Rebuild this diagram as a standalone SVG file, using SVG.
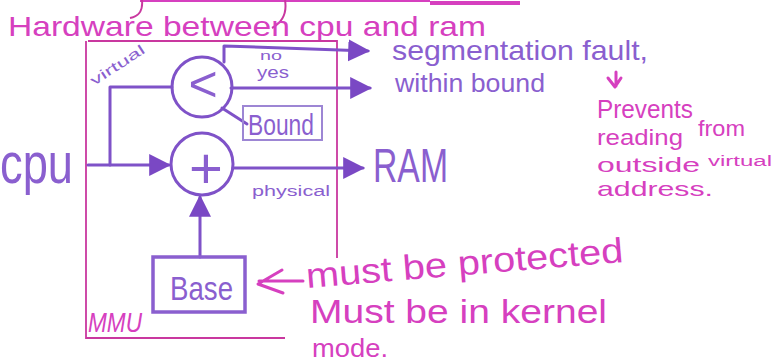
<svg xmlns="http://www.w3.org/2000/svg" width="777" height="362" viewBox="0 0 777 362">
  <style>
    .ink { fill: none; stroke: #7f52c8; stroke-width: 3; stroke-linecap: round; stroke-linejoin: round; }
    .pinkline { fill: none; stroke: #d640bf; stroke-width: 3; stroke-linecap: round; stroke-linejoin: round; }
    .frame { fill: none; stroke: #c9389f; stroke-width: 1.8; }
    .pt { font-family: "Liberation Sans", Arial, sans-serif; fill: #8a5fcf; }
    .mg { font-family: "Liberation Sans", Arial, sans-serif; fill: #d640bf; }
  </style>
  <defs>
    <marker id="head" viewBox="0 0 10 10" refX="9" refY="5" markerWidth="22" markerHeight="24" markerUnits="userSpaceOnUse" orient="auto">
      <path d="M0,0 L10,5 L0,10 z" fill="#7a48c4"/>
    </marker>
  </defs>
  <rect width="777" height="362" fill="#ffffff"/>

  <!-- title and its stray strokes -->
  <g id="title">
    <path d="M140,1 H430" fill="none" stroke="#d640bf" stroke-width="2"/>
    <path d="M430,3 H520" fill="none" stroke="#d640bf" stroke-width="4"/>
    <path d="M142,0 C143,10 140,16 130,18" fill="none" stroke="#c9389f" stroke-width="2"/>
    <path d="M285,0 C287,12 283,22 272,28" fill="none" stroke="#c9389f" stroke-width="2"/>
    <text class="mg" x="8" y="36" font-size="28" textLength="478" lengthAdjust="spacingAndGlyphs">Hardware between cpu and ram</text>
  </g>

  <!-- MMU frame -->
  <g id="mmu">
    <path class="frame" d="M88,41 H337 V258"/>
    <path class="frame" d="M86,41 V338 H285"/>
    <text class="mg" x="88" y="332" font-size="27" font-style="italic" textLength="54" lengthAdjust="spacingAndGlyphs">MMU</text>
  </g>

  <!-- connectors -->
  <g id="connectors">
    <path class="ink" d="M224,62 V46 L368,51" marker-end="url(#head)"/>
    <path class="ink" d="M231,88 L370,88" marker-end="url(#head)"/>
    <path class="ink" d="M222,108 L247,124"/>
    <path class="ink" d="M88,165 H110 V87 H172"/>
    <path class="ink" d="M110,165 H169" marker-end="url(#head)"/>
    <path class="ink" d="M233,168 L363,168" marker-end="url(#head)"/>
    <path class="ink" d="M200,257 V197" marker-end="url(#head)"/>
    <path class="pinkline" d="M303,281 H259 M282,270 L258,284 L283,293"/>
    <path class="pinkline" stroke-width="2" d="M616,72 V86 M608,78 L615,87 L621,78"/>
  </g>

  <g id="cpu">
    <text class="pt" x="0" y="183" font-size="58" textLength="73" lengthAdjust="spacingAndGlyphs">cpu</text>
  </g>

  <g id="virtual-label">
    <text class="pt" transform="translate(94,86) rotate(-33)" font-size="14" textLength="62" lengthAdjust="spacingAndGlyphs">virtual</text>
  </g>

  <g id="compare">
    <circle class="ink" cx="202" cy="87" r="30"/>
    <text class="pt" x="203" y="101" font-size="50" text-anchor="middle">&lt;</text>
  </g>

  <g id="bound">
    <rect x="243" y="106" width="79" height="34" fill="none" stroke="#9d86d4" stroke-width="2"/>
    <text class="pt" x="248" y="135" font-size="30" textLength="66" lengthAdjust="spacingAndGlyphs">Bound</text>
  </g>

  <g id="add">
    <circle class="ink" cx="202" cy="164" r="31"/>
    <text class="pt" x="206" y="188" font-size="58" text-anchor="middle">+</text>
  </g>

  <g id="base">
    <rect x="153" y="257" width="92" height="55" fill="none" stroke="#8a5fcf" stroke-width="3.5"/>
    <text class="pt" x="170" y="300" font-size="34" textLength="63" lengthAdjust="spacingAndGlyphs">Base</text>
  </g>

  <g id="labels">
    <text class="pt" x="260" y="60" font-size="12" textLength="22" lengthAdjust="spacingAndGlyphs">no</text>
    <text class="pt" x="257" y="78" font-size="17" textLength="32" lengthAdjust="spacingAndGlyphs">yes</text>
    <text class="pt" x="252" y="196" font-size="14" textLength="78" lengthAdjust="spacingAndGlyphs">physical</text>
  </g>

  <g id="ram">
    <text class="pt" x="373" y="182" font-size="49" textLength="75" lengthAdjust="spacingAndGlyphs">RAM</text>
  </g>

  <g id="outcomes">
    <text class="pt" x="392" y="60" font-size="28" textLength="256" lengthAdjust="spacingAndGlyphs">segmentation fault,</text>
    <text class="pt" x="395" y="92" font-size="26" textLength="150" lengthAdjust="spacingAndGlyphs">within bound</text>
  </g>

  <g id="note-prevents">
    <text class="mg" x="597" y="118" font-size="26" textLength="96" lengthAdjust="spacingAndGlyphs">Prevents</text>
    <text class="mg" x="597" y="145" font-size="22" textLength="86" lengthAdjust="spacingAndGlyphs">reading</text>
    <text class="mg" x="698" y="136" font-size="22" textLength="47" lengthAdjust="spacingAndGlyphs">from</text>
    <text class="mg" x="597" y="172" font-size="21" textLength="103" lengthAdjust="spacingAndGlyphs">outside</text>
    <text class="mg" x="708" y="166" font-size="14" textLength="64" lengthAdjust="spacingAndGlyphs">virtual</text>
    <text class="mg" x="597" y="196" font-size="21" textLength="116" lengthAdjust="spacingAndGlyphs">address.</text>
  </g>

  <g id="note-protected">
    <text class="mg" x="307" y="288" font-size="35" transform="rotate(-4.7 307 288)" textLength="318" lengthAdjust="spacingAndGlyphs">must be protected</text>
    <text class="mg" x="310" y="323" font-size="34" textLength="297" lengthAdjust="spacingAndGlyphs">Must be in kernel</text>
    <text class="mg" x="312" y="357" font-size="26" textLength="76" lengthAdjust="spacingAndGlyphs">mode.</text>
  </g>
</svg>
